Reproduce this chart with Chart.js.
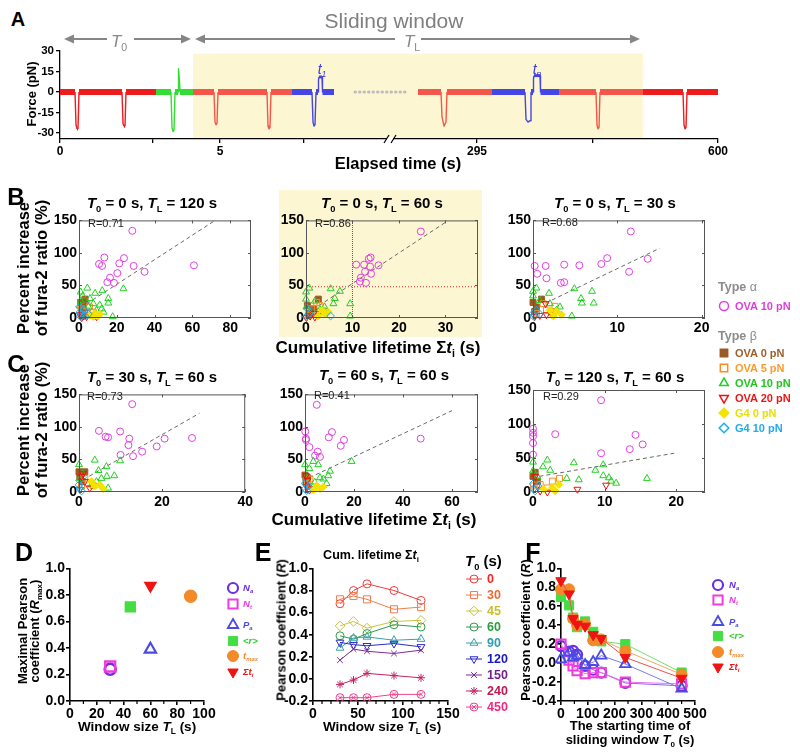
<!DOCTYPE html>
<html><head><meta charset="utf-8">
<script src="https://cdn.jsdelivr.net/npm/chart.js@4.4.1/dist/chart.umd.min.js"></script>
<style>
html,body{margin:0;padding:0;background:#fff;}
body{position:relative;width:800px;height:753px;overflow:hidden;font-family:"Liberation Sans",Arial,Helvetica,sans-serif;}
canvas{position:absolute;z-index:1;}
.tx{position:absolute;white-space:nowrap;line-height:1;z-index:2;color:#000;font-weight:bold;}
.s{font-size:0.62em;position:relative;top:0.38em;}
.hl{position:absolute;background:#fcf6d2;z-index:0;}
</style></head><body>
<div class="hl" style="left:279px;top:190px;width:203px;height:147px"></div>
<script>
// ================= DATA =================
// ---- Panel A: force trace on a broken (schematic) time axis, in display units ----
const aAxisSpan = [0, 658];
const aTickPos = [0, 93, 160, 244, 417, 533, 658];
const aTickLabels = ['0', '', '5', '', '295', '', '600'];
const aForceRange = [-34.4, 30];
const aForceTicks = [-30, -15, 0, 15, 30];
const aWindow = [133, 583];
const aWindowTop = 28;
const aBreak = 330;
const aRed1 = [[0,0],[15,0],[16,-24],[17,-27],[18,-27],[19,0],[62,0],[63,-23],[64,-25],[65,-25],[66,0],[96,0]];
const aGreen = [[96,0],[111,0],[112,-26],[113,-29],[114,-28],[115,0],[118,0],[118.5,17],[119.5,8],[120,0],[133,0]];
const aSalmon1 = [[133,0],[154,0],[155,-22],[156,-24],[157,-23],[158,0],[207,0],[208,-25],[209,-27],[210,-26],[211,0],[232,0]];
const aBlue1 = [[232,0],[252,0],[253,-22],[254,-25],[255,-24],[256,0],[258,0],[258.5,9],[259,11],[262,11],[262.5,0],[274,0]];
const aGap = [[295,0],[346,0]];
const aSalmon2 = [[358,0],[381,0],[382,-18],[384,-25],[386,-22],[387,0],[432,0]];
const aBlue2 = [[432,0],[465,0],[466,-20],[468,-22],[470,-21],[471,0],[473,0],[473.5,10],[474,12],[480,12],[480.5,0],[499,0]];
const aSalmon3 = [[499,0],[536,0],[537,-24],[538,-27],[539,-26],[540,0],[583,0]];
const aRed2 = [[583,0],[623,0],[624,-24],[625,-27],[626,-26],[627,0],[658,0]];

// ---- Panels B & C: scatter of % fura-2 increase vs cumulative lifetime ----
const bcT0 = [0, 0, 0, 30, 60, 120];
const bcTL = [120, 60, 30, 60, 60, 60];
const bcR = [0.71, 0.86, 0.68, 0.73, 0.41, 0.29];
const bcXMax = [91, 37, 20.4, 40, 70.6, 24];
const bcXTicks = [[0,20,40,60,80],[0,10,20,30],[0,10,20],[0,20,40],[0,20,40,60],[0,10,20]];
const bcYTicks = [0, 50, 100, 150];
const bcLegend = ['OVA 10 pN', 'OVA 0 pN', 'OVA 5 pN', 'OVA 10 pN', 'OVA 20 pN', 'G4 0 pN', 'G4 10 pN'];
const b2ThreshLifetime = 10;
const b2ThreshRatio = 48;

const b1Alpha = [[28.2,134],[13.4,93],[10.6,83],[12.2,80],[23.8,92],[21.3,84],[28.9,80],[20.3,69],[34.7,71],[16.4,62],[15,55],[18.5,54],[60.8,81]];
const b1Ova0 = [[3.2,29],[0.9,24],[2.3,19],[1.4,12],[2.3,4]];
const b1Ova5 = [[5.5,17],[4,11],[2.6,7],[6.7,4],[1.4,14],[7.6,9]];
const b1Ova10 = [[0.9,40],[4.4,46],[8.5,38],[12.3,42],[15.5,30],[23.5,45],[5.8,30],[7.6,22],[11,20],[15.5,23],[12,14],[17.8,2],[0.9,26],[2,34],[0.5,19],[9.3,12],[5,17],[13,9],[3,6]];
const b1Ova20 = [[2.3,3],[1.4,0.5],[4,2],[9.3,2],[0.5,5],[3.2,9]];
const b1G40 = [[8.5,7],[10.2,3],[5.8,4],[11,6],[7.6,2]];
const b1G410 = [[0.2,17],[0.5,9],[1.4,6],[2.3,13],[0.9,2],[3.2,3],[5,6]];
const b1Fit = [[1,16],[72,150]];

const b2Alpha = [[24.7,133],[10.8,82],[12.5,82],[13.5,91],[13.9,93],[13.8,79],[15.6,81],[12.7,71],[14,68],[11.8,62],[11.6,56],[12.9,54]];
const b2Ova0 = [[2.65,29],[0.3,19],[1.6,14],[0.7,7]];
const b2Ova5 = [[2.3,24],[1.2,14],[3,19],[0.5,4],[3.7,11]];
const b2Ova10 = [[0,40],[0.7,46],[5.3,45],[7.3,41],[6.2,30],[5.9,22],[9.5,22],[9.5,3],[0,29],[0.1,17],[1.9,26],[4,17],[0.9,9],[3,13]];
const b2Ova20 = [[0.9,3],[1.9,1.5],[0.1,0.5],[2.65,4],[1.6,7]];
const b2G40 = [[3.4,12],[4.1,6],[4.8,9],[2.65,3]];
const b2G410 = [[0.3,14],[0.7,6],[5.3,3],[0,2],[1.2,11]];
const b2Fit = [[1.5,13],[30,147]];

const b3Alpha = [[11.6,133],[0.2,80],[1.5,80],[3.7,82],[5.5,81],[8.1,83],[8.8,92],[13.6,91],[11.4,71],[0.5,68],[1.6,61],[3.3,54],[3.7,55]];
const b3Ova0 = [[1,29],[0,24],[0.4,17],[0.2,10]];
const b3Ova5 = [[2.6,18],[1.2,22],[1.6,12],[0.4,7],[2.2,10]];
const b3Ova10 = [[0,41],[0.4,46],[1.9,38],[4.9,45],[5.7,30],[5.8,23],[7,41],[7.2,23],[4.6,3],[2.8,12],[0,34],[0.8,27],[2,22],[3.2,17]];
const b3Ova20 = [[1.5,22],[0.8,4],[1.6,5],[0.2,2],[2.2,6]];
const b3G40 = [[3.4,5],[2.8,10],[2,12],[2.4,3]];
const b3G410 = [[0,7],[0.1,2],[0.4,12],[0.8,6]];
const b3Fit = [[1.5,23],[15,107]];

const c1Alpha = [[12.8,135],[4.8,94],[6.4,85],[7,84],[9.9,93],[12.1,82],[11.9,72],[10,57],[13,55],[15.2,62],[18.7,70],[20.6,82],[27.2,83]];
const c1Ova0 = [[0,31],[1.4,31],[0.2,23],[0.6,16]];
const c1Ova5 = [[1.4,21],[2.2,14],[0.6,9],[3.4,10]];
const c1Ova10 = [[0,42],[3.8,49],[4.7,33],[6.6,39],[6.7,24],[8.5,25],[9.9,48],[5.4,21],[4.2,16],[1,28],[0.2,21],[3,11],[7,6]];
const c1Ova20 = [[0.6,24],[1,28],[1.4,16],[2.6,6],[0.2,4]];
const c1G40 = [[3,16],[5,11],[3.8,9],[5.8,5]];
const c1G410 = [[0,11],[0.2,6],[0.6,1.5],[0.1,18]];
const c1Fit = [[1,19],[29,121]];

const c2Alpha = [[4.8,134],[0.1,93],[0.4,82],[0.4,80],[1.8,69],[4.1,56],[5.2,62],[6.1,54],[9.7,84],[11,92],[15.9,80],[14.6,71],[47.2,82]];
const c2Ova0 = [[0,26],[1,22],[0.4,15]];
const c2Ova5 = [[2,20],[1,13],[2.7,8]];
const c2Ova10 = [[0,42],[3.4,47],[5.4,42],[1.8,36],[19,47],[10.2,32],[6.1,22],[7.5,20],[9.5,25],[0.4,22],[4,15],[8.8,13]];
const c2Ova20 = [[0.4,25],[1,18],[0.7,8],[1.8,3],[3.4,5]];
const c2G40 = [[4.8,10],[6.1,5],[3.4,3],[7.5,8]];
const c2G410 = [[0,13],[0.1,5],[0.7,2],[1.4,9]];
const c2Fit = [[1.8,22],[60,125]];

const c3Alpha = [[9.5,135],[0,93],[0,82],[0,72],[0,55],[3.1,85],[13.5,63],[14.3,84],[15.3,70],[9.5,57],[0,87]];
const c3Ova0 = [[0.3,29],[0,23],[0.6,16]];
const c3Ova5 = [[3.7,20],[2.7,16],[1,11],[0.1,9],[2,6]];
const c3Ova10 = [[0,44],[2,47],[1.4,37],[2.4,32],[5.7,43],[8.7,32],[9.8,40],[9.8,24],[10.6,21],[10.9,16],[11.6,13],[15.9,20],[4.7,20],[6.4,18],[0,31],[0.6,23]];
const c3Ova20 = [[0.3,23],[6.2,4],[10.2,10],[0.6,9],[1,1.5],[2,0]];
const c3G40 = [[3.6,11],[2.7,6],[1.5,4],[3.1,1.5]];
const c3G410 = [[0,12],[0.1,5],[0.3,1.5],[0.7,9]];
const c3Fit = [[0.9,23],[19.7,57]];

// ---- Panel D: maximal Pearson coefficient vs window size ----
const dNames = ['Na', 'Nt', 'Pa', '<r>', 'tmax', 'Σti'];
const dWindow = [30, 30, 60, 45, 90, 60];
const dRmax = [0.24, 0.26, 0.39, 0.71, 0.79, 0.87];
const dXTicks = [0, 20, 40, 60, 80, 100];
const dXMinor = [10, 30, 50, 70, 90];
const dYTicks = [0, 0.2, 0.4, 0.6, 0.8, 1.0];
const dYLabels = ['0.0', '0.2', '0.4', '0.6', '0.8', '1.0'];

// ---- Panel E: Pearson coefficient (cum. lifetime) vs window size, per T0 ----
const eT0 = ['0', '30', '45', '60', '90', '120', '150', '240', '450'];
const eWindow = [30, 45, 60, 90, 120];
const e0 = [0.68, 0.80, 0.86, 0.80, 0.71];
const e30 = [0.72, 0.75, 0.72, 0.63, 0.65];
const e45 = [0.48, 0.52, 0.46, 0.52, 0.53];
const e60 = [0.39, 0.36, 0.41, 0.49, 0.47];
const e90 = [0.28, 0.37, 0.38, 0.35, 0.36];
const e120 = [0.33, 0.31, 0.30, 0.32, 0.29];
const e150 = [0.17, 0.27, 0.25, 0.23, 0.26];
const e240 = [-0.05, -0.01, 0.05, 0.03, 0.01];
const e450 = [-0.17, -0.17, -0.17, -0.14, -0.14];
const eXTicks = [0, 50, 100, 150];
const eXMinor = [10, 20, 30, 40, 60, 70, 80, 90, 110, 120, 130, 140];
const eYTicks = [-0.2, 0, 0.2, 0.4, 0.6, 0.8, 1.0];
const eYLabels = ['-0.2', '0.0', '0.2', '0.4', '0.6', '0.8', '1.0'];

// ---- Panel F: Pearson coefficient vs starting time T0 ----
const fT0 = [0, 30, 45, 60, 90, 120, 150, 240, 450];
const fNa = [0.18, 0.12, 0.13, 0.09, -0.03, -0.07, -0.10, -0.21, -0.24];
const fNt = [0.20, 0.03, -0.03, -0.08, -0.11, -0.10, -0.10, -0.20, -0.22];
const fPa = [0.04, 0.11, 0.06, 0.08, -0.02, 0.01, 0.08, -0.01, -0.27];
const fR = [0.70, 0.61, 0.48, 0.38, 0.44, 0.33, 0.23, 0.20, -0.10];
const fTmax = [0.78, 0.78, 0.47, 0.40, 0.41, 0.24, 0.25, 0.13, -0.12];
const fSum = [0.87, 0.73, 0.47, 0.41, 0.39, 0.30, 0.26, 0.06, -0.16];
const fXTicks = [0, 100, 200, 300, 400, 500];
const fXMinor = [50, 150, 250, 350, 450];
const fYTicks = [-0.4, -0.2, 0, 0.2, 0.4, 0.6, 0.8, 1.0];
const fYLabels = ['-0.4', '-0.2', '0.0', '0.2', '0.4', '0.6', '0.8', '1.0'];

// ================= STYLES =================
const bcStyle = [
  {ps:'circle', r:3.5, c:'#e040e0', f:false},
  {ps:'rect', r:4.2, c:'#9a5a26', f:true},
  {ps:'rect', r:4.2, c:'#ff8a1e', f:false},
  {ps:'triangle', r:4, c:'#22d022', f:false},
  {ps:'triangle', r:4, c:'#ee1111', f:false, rot:180},
  {ps:'rectRot', r:3.8, c:'#f2e400', f:true},
  {ps:'rectRot', r:3.8, c:'#1aaeee', f:false}
];
const bcText = ['#dd3fdd', '#a0602a', '#ff9a2a', '#22c422', '#ee1515', '#e8e000', '#22aaee'];
const dfStyle = [
  {ps:'circle', r:5, c:'#6a30e6', f:false, bw:2.2, tc:'#6a30e6'},
  {ps:'rect', r:6.5, c:'#ee3cde', f:false, bw:2, tc:'#ee3cde'},
  {ps:'triangle', r:6, c:'#4a4ae6', f:false, bw:1.8, tc:'#4a4ae6'},
  {ps:'rect', r:6.5, c:'#44dd44', f:true, bw:1, tc:'#33cc33'},
  {ps:'circle', r:5.5, c:'#f28a2a', f:true, bw:1, tc:'#f28a2a'},
  {ps:'triangle', r:6, c:'#ee1414', f:true, bw:1, rot:180, tc:'#ee1414'}
];
const dfLabelHtml = ['<i>N</i><span class="s">a</span>', '<i>N</i><span class="s">t</span>', '<i>P</i><span class="s">a</span>',
  '&lt;<i>r</i>&gt;', '<i>t</i><span class="s">max</span>', 'Σ<i>t</i><span class="s">i</span>'];
const eStyle = [
  {ps:'circle', r:4, c:'#f03c3c'}, {ps:'rect', r:5, c:'#f07c4c'}, {ps:'rectRot', r:4.8, c:'#c8c43c'},
  {ps:'circle', r:4, c:'#2e9c4a'}, {ps:'triangle', r:4.5, c:'#3aa0aa'}, {ps:'triangle', r:4.5, c:'#2a2ac8', rot:180},
  {ps:'crossRot', r:4, c:'#7a2c98'}, {ps:'star', r:4, c:'#c42262'}, {ps:'circle', r:4, c:'#f0408c'}
];
const eTextColor = ['#ff2020', '#f06a30', '#c8c030', '#28a040', '#30a0b0', '#1818c0', '#702090', '#c01850', '#f02880'];

// ================= HELPERS =================
Chart.defaults.font.family = '"Liberation Sans", Arial, Helvetica, sans-serif';
Chart.defaults.color = '#000';
const P = arr => arr.map(p => ({x: p[0], y: p[1]}));
const pairs = (xs, ys) => xs.map((x, i) => ({x: x, y: ys[i]}));

function tx(x, y, html, size, o) {
  o = o || {};
  const d = document.createElement('div');
  d.className = 'tx';
  d.innerHTML = html;
  d.style.left = x + 'px'; d.style.top = y + 'px';
  d.style.fontSize = size + 'px';
  if (o.w) d.style.fontWeight = o.w;
  if (o.c) d.style.color = o.c;
  if (o.it) d.style.fontStyle = 'italic';
  let t = o.a === 'l' ? 'translate(0,-50%)' : 'translate(-50%,-50%)';
  if (o.rot) t += ' rotate(-90deg)';
  d.style.transform = t;
  document.body.appendChild(d);
}

function axis(o) {
  return {
    type: 'linear', min: o.min, max: o.max,
    afterBuildTicks: s => { s.ticks = o.ticks.map(v => ({value: v})); },
    ticks: {autoSkip: false, maxRotation: 0, minRotation: 0, padding: o.pad, color: '#000',
      font: {size: o.size, weight: 'bold'}, callback: (v, i) => o.labels[i]},
    grid: o.open ? {display: true, drawOnChartArea: false, drawTicks: true, tickLength: o.tl, color: '#000', lineWidth: o.lw, tickWidth: o.lw}
                 : {display: false, drawTicks: false},
    border: o.open ? {display: true, color: '#000', width: o.lw} : {display: false}
  };
}

function build(area, m, cfg) {
  const c = document.createElement('canvas');
  const W = area.w + m.L + m.R, H = area.h + m.T + m.B;
  const ox = area.l - m.L, oy = area.t - m.T;
  c.width = W; c.height = H;
  c.style.left = ox + 'px'; c.style.top = oy + 'px';
  c.style.width = W + 'px'; c.style.height = H + 'px';
  document.body.appendChild(c);
  cfg.x.afterFit = s => { s.height = m.B; };
  cfg.y.afterFit = s => { s.width = m.L; };
  return new Chart(c, {
    type: 'scatter',
    data: {datasets: cfg.datasets},
    options: {
      responsive: false, animation: false, devicePixelRatio: 1,
      layout: {padding: {left: 0, top: m.T, right: m.R, bottom: 0}, autoPadding: false},
      plugins: {legend: {display: false}, tooltip: {enabled: false}, title: {display: false}},
      events: [],
      scales: {x: cfg.x, y: cfg.y}
    },
    plugins: (cfg.plugins || []).map(f => f({ox: ox, oy: oy}))
  });
}

function sc(data, st, extra) {
  return Object.assign({
    data: data, showLine: false, clip: false,
    pointStyle: st.ps, pointRadius: st.r, pointHoverRadius: st.r, pointRotation: st.rot || 0,
    pointBorderColor: st.c, pointBackgroundColor: st.f ? st.c : 'rgba(0,0,0,0)',
    pointBorderWidth: st.bw || 1, borderColor: st.lc || st.c, borderWidth: 1
  }, extra || {});
}

const marks = items => o => ({
  id: 'marks',
  afterDraw(chart) {
    const ctx = chart.ctx, H = Chart.helpers;
    items.forEach(it => {
      const x = it.x - o.ox, y = it.y - o.oy;
      ctx.save();
      if (it.line) {
        ctx.strokeStyle = it.c; ctx.lineWidth = 1;
        ctx.beginPath(); ctx.moveTo(x - it.line, y); ctx.lineTo(x + it.line, y); ctx.stroke();
      }
      ctx.strokeStyle = it.c; ctx.fillStyle = it.f ? it.c : 'rgba(0,0,0,0)'; ctx.lineWidth = it.bw || 1;
      if (H && H.drawPoint) H.drawPoint(ctx, {pointStyle: it.ps, radius: it.r, rotation: it.rot || 0, borderWidth: it.bw || 1}, x, y);
      ctx.restore();
    });
  }
});

const frame = () => o => ({
  id: 'frame',
  afterDraw(chart) {
    const {ctx, chartArea: a, scales: {x, y}} = chart;
    ctx.save(); ctx.strokeStyle = '#555'; ctx.lineWidth = 1;
    ctx.strokeRect(a.left + 0.5, a.top + 0.5, a.right - a.left - 1, a.bottom - a.top - 1);
    ctx.beginPath();
    x.ticks.forEach(t => { const p = Math.round(x.getPixelForValue(t.value)) + 0.5;
      ctx.moveTo(p, a.bottom); ctx.lineTo(p, a.bottom - 3); ctx.moveTo(p, a.top); ctx.lineTo(p, a.top + 3); });
    y.ticks.forEach(t => { const p = Math.round(y.getPixelForValue(t.value)) + 0.5;
      ctx.moveTo(a.left, p); ctx.lineTo(a.left + 3, p); ctx.moveTo(a.right, p); ctx.lineTo(a.right - 3, p); });
    ctx.stroke(); ctx.restore();
  }
});

const minor = vals => o => ({
  id: 'minor',
  afterDraw(chart) {
    const {ctx, chartArea: a, scales: {x}} = chart;
    ctx.save(); ctx.strokeStyle = '#000'; ctx.lineWidth = 1.2; ctx.beginPath();
    vals.forEach(v => { const p = x.getPixelForValue(v); ctx.moveTo(p, a.bottom); ctx.lineTo(p, a.bottom + 3); });
    ctx.stroke(); ctx.restore();
  }
});

// ================= PANEL A =================
const segW = ctx => {
  const a = ctx.p0.parsed.y, b = ctx.p1.parsed.y;
  return a === b ? (a === 0 ? 6 : 3) : 1.4;
};
const trace = (arr, col) => ({data: P(arr), showLine: true, pointRadius: 0, borderColor: col, borderWidth: 1.4,
  borderCapStyle: 'butt', borderJoinStyle: 'round', segment: {borderWidth: segW}, clip: false});

const aDecor = o => ({
  id: 'aDecor',
  beforeDraw(chart) {
    const {ctx, chartArea: a, scales: {x, y}} = chart;
    const x0 = x.getPixelForValue(aWindow[0]), x1 = x.getPixelForValue(aWindow[1]);
    const yt = y.getPixelForValue(aWindowTop);
    ctx.save(); ctx.fillStyle = '#fcf6d2'; ctx.fillRect(x0, yt, x1 - x0, a.bottom - yt); ctx.restore();
  },
  afterDraw(chart) {
    const {ctx, chartArea: a, scales: {x}} = chart;
    const ay = a.top - 12;
    function arrow(u0, u1, g0, g1) {
      const p0 = x.getPixelForValue(u0), p1 = x.getPixelForValue(u1);
      const q0 = x.getPixelForValue(g0), q1 = x.getPixelForValue(g1);
      ctx.strokeStyle = '#858585'; ctx.fillStyle = '#858585'; ctx.lineWidth = 2;
      ctx.beginPath(); ctx.moveTo(p0 + 6, ay); ctx.lineTo(q0, ay); ctx.moveTo(q1, ay); ctx.lineTo(p1 - 6, ay); ctx.stroke();
      ctx.beginPath(); ctx.moveTo(p0, ay); ctx.lineTo(p0 + 10, ay - 4.5); ctx.lineTo(p0 + 10, ay + 4.5); ctx.closePath(); ctx.fill();
      ctx.beginPath(); ctx.moveTo(p1, ay); ctx.lineTo(p1 - 10, ay - 4.5); ctx.lineTo(p1 - 10, ay + 4.5); ctx.closePath(); ctx.fill();
    }
    ctx.save();
    arrow(4, aWindow[0] - 2, 47, 74);
    arrow(aWindow[0] + 2, aWindow[1] - 3, 335, 361);
    const bp = x.getPixelForValue(aBreak);
    ctx.fillStyle = '#fff'; ctx.fillRect(bp - 3, a.bottom - 2, 6, 5);
    ctx.strokeStyle = '#000'; ctx.lineWidth = 1.2; ctx.beginPath();
    ctx.moveTo(bp - 6, a.bottom + 4); ctx.lineTo(bp - 1, a.bottom - 4);
    ctx.moveTo(bp + 1, a.bottom + 4); ctx.lineTo(bp + 6, a.bottom - 4);
    ctx.stroke();
    ctx.restore();
  }
});

build({l:60, t:51, w:658, h:88}, {L:30, R:20, T:51, B:22}, {
  x: axis({min: aAxisSpan[0], max: aAxisSpan[1], ticks: aTickPos, labels: aTickLabels, size: 12, pad: 1, tl: 4, lw: 1.3, open: true}),
  y: axis({min: aForceRange[0], max: aForceRange[1], ticks: aForceTicks, labels: aForceTicks.map(String), size: 11.5, pad: 2, tl: 4, lw: 1.3, open: true}),
  datasets: [
    trace(aRed1, '#ee1c1c'), trace(aGreen, '#33dd33'), trace(aSalmon1, '#f4574a'), trace(aBlue1, '#4646e6'),
    {data: P(aGap), showLine: true, pointRadius: 0, borderColor: '#bdbdbd', borderWidth: 3, borderDash: [0.5, 4], borderCapStyle: 'round'},
    trace(aSalmon2, '#f4574a'), trace(aBlue2, '#4646e6'), trace(aSalmon3, '#f4574a'), trace(aRed2, '#ee1c1c')
  ],
  plugins: [aDecor]
});

tx(18, 19, 'A', 20);
tx(394, 20, 'Sliding window', 21, {w: 'normal', c: '#7f7f7f'});
tx(119, 41, '<i>T</i><span class="s">0</span>', 17, {w: 'normal', c: '#888'});
tx(412, 41, '<i>T</i><span class="s">L</span>', 17, {w: 'normal', c: '#888'});
tx(322, 69, '<i>t</i><span class="s"><i>1</i></span>', 14, {w: 'normal', c: '#3d3de6'});
tx(537, 69, '<i>t</i><span class="s"><i>n</i></span>', 14, {w: 'normal', c: '#3d3de6'});
tx(31, 94, 'Force (pN)', 13, {rot: true});
tx(398, 163, 'Elapsed time (s)', 16.5);

// ================= PANELS B & C =================
const bcData = [
  [b1Alpha, b1Ova0, b1Ova5, b1Ova10, b1Ova20, b1G40, b1G410],
  [b2Alpha, b2Ova0, b2Ova5, b2Ova10, b2Ova20, b2G40, b2G410],
  [b3Alpha, b3Ova0, b3Ova5, b3Ova10, b3Ova20, b3G40, b3G410],
  [c1Alpha, c1Ova0, c1Ova5, c1Ova10, c1Ova20, c1G40, c1G410],
  [c2Alpha, c2Ova0, c2Ova5, c2Ova10, c2Ova20, c2G40, c2G410],
  [c3Alpha, c3Ova0, c3Ova5, c3Ova10, c3Ova20, c3G40, c3G410]
];
const bcFit = [b1Fit, b2Fit, b3Fit, c1Fit, c2Fit, c3Fit];
const bcArea = [{l:79,t:216,w:172,h:102},{l:306,t:216,w:172,h:102},{l:533,t:216,w:172,h:102},
                {l:79,t:390,w:168,h:102},{l:305,t:390,w:173,h:102},{l:533,t:390,w:172,h:102}];
const bcTitlePos = [[152,203],[382,203],[615,203],[152,377],[384,375],[615,377]];
const bcRPos = [[88,223],[315,223],[542,222],[87,396],[314,395],[543,396]];
const bcLegendY = [306, 353, 368, 383, 398, 413, 428];

bcData.forEach((sets, p) => {
  const ds = [];
  ds.push({data: P(bcFit[p]), showLine: true, pointRadius: 0, borderColor: '#6a6a6a', borderWidth: 1, borderDash: [4, 3], order: 9});
  if (p === 1) {
    ds.push({data: [{x: b2ThreshLifetime, y: bcYTicks[0]}, {x: b2ThreshLifetime, y: bcYTicks[3]}], showLine: true, pointRadius: 0,
      borderColor: '#e02828', borderWidth: 1, borderDash: [1, 1], order: 10});
    ds.push({data: [{x: 0, y: b2ThreshRatio}, {x: bcXMax[1], y: b2ThreshRatio}], showLine: true, pointRadius: 0,
      borderColor: '#e02828', borderWidth: 1.2, borderDash: [1, 2], order: 10});
  }
  sets.forEach((arr, k) => ds.push(sc(P(arr), bcStyle[k], {order: 7 - k})));
  const m = p === 5 ? {L:32, R:100, T:100, B:22} : {L:32, R:8, T:6, B:22};
  const plugs = [frame()];
  if (p === 5) plugs.push(marks(bcStyle.map((s, k) => ({x: 724, y: bcLegendY[k], ps: s.ps, r: s.r + 1, c: s.c, f: s.f, bw: 1.5, rot: s.rot}))));
  build(bcArea[p], m, {
    x: axis({min: 0, max: bcXMax[p], ticks: bcXTicks[p], labels: bcXTicks[p].map(String), size: 14, pad: 2}),
    y: axis({min: bcYTicks[0], max: bcYTicks[3], ticks: bcYTicks, labels: bcYTicks.map(String), size: 14, pad: 2}),
    datasets: ds, plugins: plugs
  });
  tx(bcTitlePos[p][0], bcTitlePos[p][1], '<i>T</i><span class="s">0</span> = ' + bcT0[p] + ' s, <i>T</i><span class="s">L</span> = ' + bcTL[p] + ' s', 15);
  tx(bcRPos[p][0], bcRPos[p][1], 'R=' + bcR[p].toFixed(2), 11, {w: 'normal', a: 'l', c: '#222'});
});

tx(16, 197, 'B', 24);
tx(16, 364, 'C', 24);
[268, 430].forEach(cy => {
  tx(23, cy, 'Percent increase', 16.5, {rot: true});
  tx(41, cy, 'of fura-2 ratio (%)', 16.5, {rot: true});
});
tx(378, 347, 'Cumulative lifetime Σ<i>t</i><span class="s">i</span> (s)', 17);
tx(374, 519, 'Cumulative lifetime Σ<i>t</i><span class="s">i</span> (s)', 17);
tx(718, 287, 'Type <span style="font-weight:normal">α</span>', 12.5, {a: 'l', c: '#8c8c8c'});
tx(718, 336, 'Type <span style="font-weight:normal">β</span>', 12.5, {a: 'l', c: '#8c8c8c'});
bcLegend.forEach((t, k) => tx(735, bcLegendY[k], t, 11, {a: 'l', c: bcText[k]}));

// ================= PANEL D =================
const dLegendY = [588, 604, 625, 641, 656, 672];
build({l:70, t:567, w:134, h:134}, {L:40, R:70, T:8, B:24}, {
  x: axis({min: dXTicks[0], max: dXTicks[5], ticks: dXTicks, labels: dXTicks.map(String), size: 14, pad: 1, tl: 4, lw: 1.6, open: true}),
  y: axis({min: dYTicks[0], max: dYTicks[5], ticks: dYTicks, labels: dYLabels, size: 14, pad: 1, tl: 4, lw: 1.6, open: true}),
  datasets: dNames.map((n, i) => sc([{x: dWindow[i], y: dRmax[i]}], Object.assign({}, dfStyle[i], {r: dfStyle[i].r + 0.5, bw: (dfStyle[i].bw || 1) + 0.4}), {order: 6 - i})),
  plugins: [minor(dXMinor), marks(dfStyle.map((s, i) => ({x: 233, y: dLegendY[i], ps: s.ps, r: s.r, c: s.c, f: s.f, bw: s.bw, rot: s.rot})))]
});
tx(24, 552, 'D', 25);
tx(22, 631, 'Maximal Pearson', 13, {rot: true});
tx(35, 631, 'coefficient (<i>R</i><span class="s">max</span>)', 13, {rot: true});
tx(137, 727, 'Window size <i>T</i><span class="s">L</span> (s)', 13.5);
dfLabelHtml.forEach((h, i) => tx(243, dLegendY[i], h, 9.5, {a: 'l', c: dfStyle[i].tc, it: true}));

// ================= PANEL E =================
const eSeries = [e0, e30, e45, e60, e90, e120, e150, e240, e450];
const eLegendY = [579, 595, 611, 627, 643, 659, 675, 691, 707];
const eSets = eSeries.map((arr, i) => sc(pairs(eWindow, arr), eStyle[i], {showLine: true, order: 20 - i}));
eSets.push(sc(pairs(eWindow, e450), {ps: 'crossRot', r: 3, c: eStyle[8].c}, {order: 1}));
const eMarks = eStyle.map((s, i) => ({x: 474, y: eLegendY[i], ps: s.ps, r: s.r, c: s.c, f: false, bw: 1, rot: s.rot, line: 8}));
eMarks.push({x: 474, y: eLegendY[8], ps: 'crossRot', r: 3, c: eStyle[8].c, f: false, bw: 1});
build({l:313, t:567, w:135, h:134}, {L:45, R:75, T:8, B:24}, {
  x: axis({min: eXTicks[0], max: eXTicks[3], ticks: eXTicks, labels: eXTicks.map(String), size: 14, pad: 1, tl: 4, lw: 1.6, open: true}),
  y: axis({min: eYTicks[0], max: eYTicks[6], ticks: eYTicks, labels: eYLabels, size: 14, pad: 1, tl: 4, lw: 1.6, open: true}),
  datasets: eSets,
  plugins: [minor(eXMinor), marks(eMarks)]
});
tx(263, 552, 'E', 25);
tx(371, 555, 'Cum. lifetime Σ<i>t</i><span class="s">i</span>', 12.5);
tx(281, 630, 'Pearson coefficient (<i>R</i>)', 13, {rot: true});
tx(382, 727, 'Window size <i>T</i><span class="s">L</span> (s)', 13.5);
tx(465, 561, '<i>T</i><span class="s">0</span> (s)', 15, {a: 'l'});
eT0.forEach((t, i) => tx(487, eLegendY[i], t, 12.5, {a: 'l', c: eTextColor[i]}));

// ================= PANEL F =================
const fSeries = [fNa, fNt, fPa, fR, fTmax, fSum];
const fLine = ['#8a60f0', '#f070e8', '#7a7af0', '#70e070', '#f4a860', '#f05050'];
const fLegendY = [585, 600, 622, 636, 652, 667];
build({l:561, t:567, w:134, h:134}, {L:40, R:105, T:8, B:24}, {
  x: axis({min: fXTicks[0], max: fXTicks[5], ticks: fXTicks, labels: fXTicks.map(String), size: 14, pad: 1, tl: 4, lw: 1.6, open: true}),
  y: axis({min: fYTicks[0], max: fYTicks[7], ticks: fYTicks, labels: fYLabels, size: 14, pad: 1, tl: 4, lw: 1.6, open: true}),
  datasets: fSeries.map((arr, i) => sc(pairs(fT0, arr), Object.assign({}, dfStyle[i], {lc: fLine[i]}), {showLine: true, order: 6 - i})),
  plugins: [minor(fXMinor), marks(dfStyle.map((s, i) => ({x: 718, y: fLegendY[i], ps: s.ps, r: s.r, c: s.c, f: s.f, bw: s.bw, rot: s.rot})))]
});
tx(533, 552, 'F', 25);
tx(525, 630, 'Pearson coefficient (<i>R</i>)', 13, {rot: true});
tx(630, 725, 'The starting time of', 13);
tx(630, 740, 'sliding window <i>T</i><span class="s">0</span> (s)', 13);
dfLabelHtml.forEach((h, i) => tx(729, fLegendY[i], h, 9.5, {a: 'l', c: dfStyle[i].tc, it: true}));
</script>
</body></html>
